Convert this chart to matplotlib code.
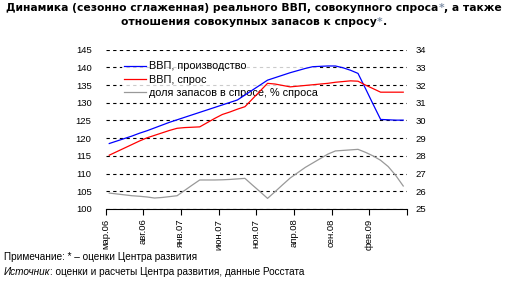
import matplotlib
matplotlib.use("Agg")
import matplotlib.pyplot as plt

# monthly values, мар.06 .. июн.09
gdp_production = [118.5, 119.2, 119.9, 120.6, 121.4, 122.1, 122.9, 123.7, 124.5, 125.2,
                  125.9, 126.6, 127.3, 128.0, 128.7, 129.4, 130.1, 130.8, 132.2, 133.6,
                  135.0, 136.4, 137.1, 137.8, 138.5, 139.1, 139.7, 140.2, 140.3, 140.4,
                  140.4, 139.9, 139.2, 138.3, 134.0, 129.6, 125.3, 125.2, 125.1, 125.1]
gdp_demand = [115.2, 116.2, 117.2, 118.2, 119.2, 120.1, 120.8, 121.5, 122.2, 122.8,
              123.0, 123.1, 123.2, 124.4, 125.6, 126.7, 127.4, 128.2, 128.9, 131.1,
              133.3, 135.5, 135.3, 134.9, 134.5, 134.7, 134.9, 135.1, 135.3, 135.5,
              135.8, 136.0, 136.2, 136.1, 135.0, 134.0, 133.0, 133.0, 133.0, 133.0]
stock_share = [25.9, 25.85, 25.8, 25.75, 25.72, 25.68, 25.62, 25.65, 25.7, 25.75,
               26.05, 26.35, 26.64, 26.64, 26.64, 26.65, 26.67, 26.7, 26.73, 26.35,
               25.98, 25.6, 25.98, 26.37, 26.75, 27.05, 27.35, 27.6, 27.85, 28.1,
               28.28, 28.31, 28.34, 28.37, 28.2, 28.0, 27.75, 27.4, 26.9, 26.3]
tick_labels = ["мар.06", "авг.06", "янв.07", "июн.07", "ноя.07", "апр.08", "сен.08", "фев.09", ""]
series_names = ["ВВП, производство", "ВВП, спрос", "доля запасов в спросе, % спроса"]

LABEL_FONT = "Liberation Sans"
TITLE_FONT = "DejaVu Sans"


def draw_pieces(fig, x, y, pieces, **common):
    """Draw text pieces one after another on a single line (figure pixels)."""
    renderer = fig.canvas.get_renderer()
    cur = x
    for text, props in pieces:
        t = fig.text(cur / fig.bbox.width, 1 - y / fig.bbox.height, text,
                     va="center", ha="left", **common, **props)
        cur += t.get_window_extent(renderer).width
    return cur


def centered_pieces(fig, cx, y, pieces, **common):
    renderer = fig.canvas.get_renderer()
    total = 0
    for text, props in pieces:
        t = fig.text(0, 0, text, **common, **props)
        total += t.get_window_extent(renderer).width
        t.remove()
    draw_pieces(fig, cx - total / 2, y, pieces, **common)


fig = plt.figure(figsize=(5.08, 2.81), dpi=100)
W, H = 508, 281
left, right, top, bottom = 105.5, 407, 49.7, 209
ax = fig.add_axes([left / W, 1 - bottom / H, (right - left) / W, (bottom - top) / H])

x = [i + 0.5 for i in range(len(gdp_production))]
ax.set_axisbelow(True)
l1, = ax.plot(x, gdp_production, color="#0000ff", lw=0.9, zorder=3)
l2, = ax.plot(x, gdp_demand, color="#ff0000", lw=0.9, zorder=3)

ax2 = ax.twinx()
ax2.set_position(ax.get_position())
l3, = ax2.plot(x, stock_share, color="#999999", lw=0.9, zorder=3)

ax.set_xlim(0, 40)
ax.set_ylim(100, 145)
ax2.set_ylim(25, 34)
ax.set_yticks(range(100, 146, 5))
ax2.set_yticks(range(25, 35))
ax.set_xticks(range(0, 41, 5))
ax.set_xticklabels(tick_labels, rotation=90, fontsize=6.8, family=LABEL_FONT)
ax.tick_params(axis="x", direction="out", length=4, width=0.8, pad=3)
ax.tick_params(axis="y", length=0, pad=10, labelsize=6.8)
ax2.tick_params(axis="y", length=0, pad=6, labelsize=6.8)
for lab in ax.get_yticklabels() + ax2.get_yticklabels():
    lab.set_family(LABEL_FONT)

ax.grid(axis="y", color="black", linestyle=(0, (3, 3)), linewidth=0.8)
for a in (ax, ax2):
    for side in ("left", "right", "top"):
        a.spines[side].set_visible(False)
ax.spines["bottom"].set_linewidth(0.8)
ax2.spines["bottom"].set_visible(False)

# legend lives on the lower axes so the data lines stay on top of its white box
leg = ax.legend([l1, l2, l3], series_names, loc="upper left",
                bbox_to_anchor=(0.055, 0.94), frameon=True, fancybox=False,
                prop={"family": LABEL_FONT, "size": 7.8}, handlelength=2.0,
                handletextpad=0.25, labelspacing=0.3, borderpad=0.2,
                borderaxespad=0)
leg.get_frame().set_facecolor("white")
leg.get_frame().set_edgecolor("none")
leg.set_zorder(2.5)
ax2.set_zorder(ax.get_zorder() + 1)
ax2.patch.set_visible(False)

fig.canvas.draw()
bold = {"family": TITLE_FONT, "weight": "bold", "size": 7.75}
centered_pieces(fig, 254, 8, [
    ("Динамика (сезонно сглаженная) реального ВВП, совокупного спроса", {}),
    ("*", {"color": "#7f8fa6"}),
    (", а также", {}),
], **bold)
centered_pieces(fig, 254, 22, [
    ("отношения совокупных запасов к спросу", {}),
    ("*", {"color": "#7f8fa6"}),
    (".", {}),
], **bold)

note = {"family": LABEL_FONT, "size": 7.2}
draw_pieces(fig, 4, 257, [("Примечание: * – оценки Центра развития", {})], **note)
draw_pieces(fig, 4, 272, [
    ("Источник", {"style": "italic"}),
    (": оценки и расчеты Центра развития, данные Росстата", {}),
], **note)

fig.savefig("out.png", dpi=100)
